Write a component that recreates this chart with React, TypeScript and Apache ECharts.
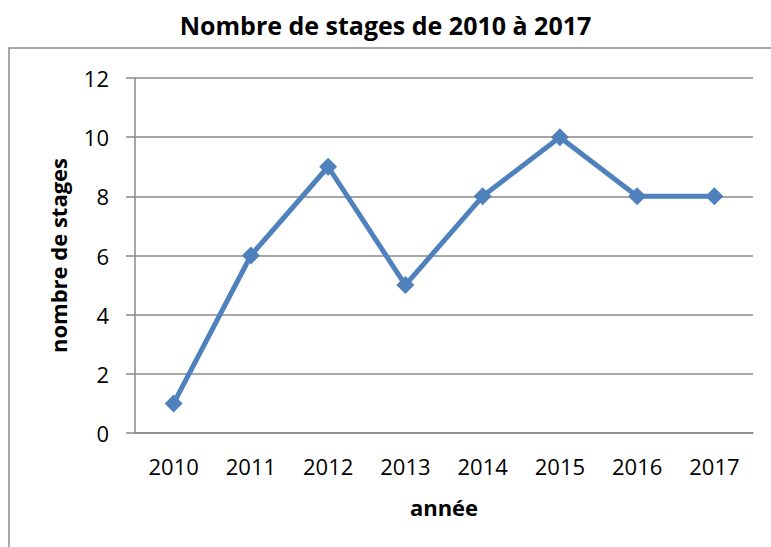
import React, { useEffect, useRef } from "react";
import * as echarts from "echarts";

const titleText = "Nombre de stages de 2010 à 2017";
const years = ["2010", "2011", "2012", "2013", "2014", "2015", "2016", "2017"];
const stages = [1, 6, 9, 5, 8, 10, 8, 8];
const yTicks = { min: 0, max: 12, interval: 2 };
const xName = "année";
const yName = "nombre de stages";

export default function App() {
  const ref = useRef<HTMLDivElement>(null);
  useEffect(() => {
    if (!ref.current) return;
    const chart = echarts.init(ref.current, null, { renderer: "svg" });
    const font = "'Open Sans', sans-serif";
    chart.setOption({
      animation: false,
      backgroundColor: "#ffffff",
      title: {
        text: titleText,
        left: "center",
        top: 7,
        textStyle: { fontFamily: font, fontWeight: "bold", fontSize: 25, color: "#000" },
      },
      graphic: [
        {
          type: "rect",
          shape: { x: 9, y: 48, width: 820, height: 600 },
          style: { fill: "none", stroke: "#8a8a8a", lineWidth: 1.5 },
          silent: true,
          z: 0,
        },
      ],
      grid: { left: 135, right: 18, top: 78, bottom: 114 },
      xAxis: {
        type: "category",
        data: years,
        boundaryGap: true,
        name: xName,
        nameLocation: "middle",
        nameGap: 63,
        nameTextStyle: { fontFamily: font, fontWeight: "bold", fontSize: 22, color: "#000" },
        axisLine: { lineStyle: { color: "#8a8a8a", width: 1.5 } },
        axisTick: { show: false },
        axisLabel: { fontFamily: font, fontSize: 22, color: "#000", margin: 22 },
      },
      yAxis: {
        type: "value",
        min: yTicks.min,
        max: yTicks.max,
        interval: yTicks.interval,
        name: yName,
        nameLocation: "middle",
        nameGap: 66,
        nameTextStyle: { fontFamily: font, fontWeight: "bold", fontSize: 22, color: "#000" },
        axisLine: { show: true, lineStyle: { color: "#8a8a8a", width: 1.5 } },
        axisTick: { show: true, length: 9, lineStyle: { color: "#8a8a8a", width: 1.5 } },
        splitLine: { lineStyle: { color: "#8a8a8a", width: 1.5 } },
        axisLabel: { fontFamily: font, fontSize: 22, color: "#000", margin: 26 },
      },
      series: [
        {
          type: "line",
          data: stages,
          symbol: "diamond",
          symbolSize: 18,
          itemStyle: { color: "#4F81BD" },
          lineStyle: { color: "#4F81BD", width: 5 },
        },
      ],
    });
    return () => chart.dispose();
  }, []);
  return (
    <div
      ref={ref}
      style={{ position: "fixed", left: 0, top: 0, width: 771, height: 547 }}
    />
  );
}
